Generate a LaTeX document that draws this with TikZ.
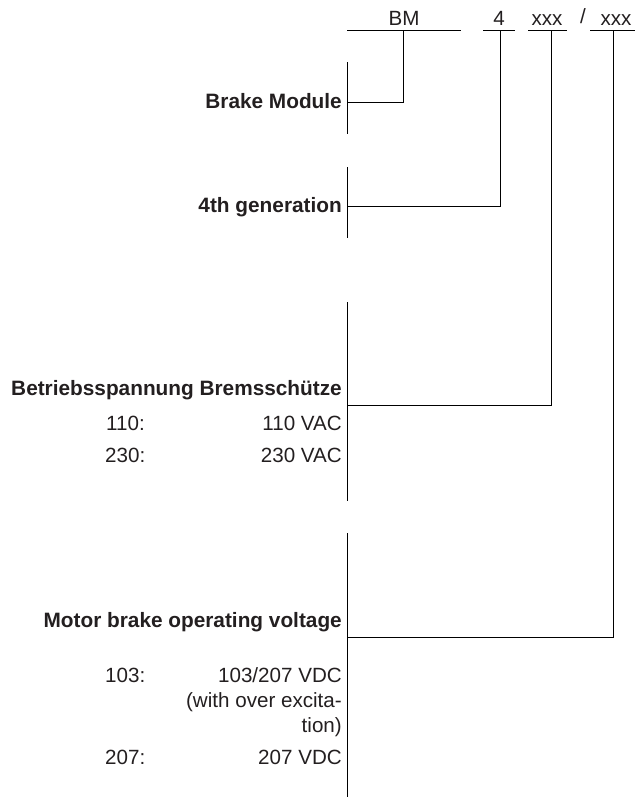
\documentclass[tikz,border=0pt]{standalone}
\usepackage{fontspec}
\setmainfont{Liberation Sans}
\usepackage{tikz}
\definecolor{txtgray}{RGB}{35,31,32}
\begin{document}
\begin{tikzpicture}[x=1pt,y=-1pt]
        \tikzstyle{every node}+=[inner sep=0pt, text=txtgray, font=\fontsize{20.6}{24}\selectfont]
        \tikzstyle{code}=[anchor=base]
        \tikzstyle{head}=[anchor=base east, font=\fontsize{20.8}{24}\selectfont\bfseries]
        \tikzstyle{val}=[anchor=base east]
        \tikzstyle{key}=[anchor=base west]
        \tikzstyle{wire}=[black, line width=1pt]
        \useasboundingbox (0,0) rectangle (642,798);
        % type code on top
        \draw [wire] (347,30) -- (461,30);
        \draw [wire] (483,30) -- (515,30);
        \draw [wire] (528,30) -- (567,30);
        \draw [wire] (590,30) -- (635,30);
        \node [code] (bm) at (404,25) {BM};
        \node [code] (gen) at (499,25) {4};
        \node [code] (vac) at (547,25) {xxx};
        \node [code] (slash) at (583,23) {/};
        \node [code] (vdc) at (616,25) {xxx};
        \coordinate (bmtop) at (403,30);
        \coordinate (gentop) at (500,30);
        \coordinate (vactop) at (551,30);
        \coordinate (vdctop) at (613,30);
        % separators on the left
        \draw [wire] (347,62) -- (347,134);
        \draw [wire] (347,167) -- (347,238);
        \draw [wire] (347,302) -- (347,501);
        \draw [wire] (347,533) -- (347,797);
        % field texts
        \node [head] (brake) at (342,108) {Brake Module};
        \node [head] (fourth) at (342,212) {4th generation};
        \node [head] (betr) at (342,395) {Betriebsspannung Bremsschütze};
        \node [key] (k110) at (106,430) {110:};
        \node [val] (v110) at (342,430) {110 VAC};
        \node [key] (k230) at (105,462) {230:};
        \node [val] (v230) at (342,462) {230 VAC};
        \node [head] (motor) at (342,627) {Motor brake operating voltage};
        \node [key] (k103) at (105,682) {103:};
        \node [val] (v103) at (342,682) {103/207 VDC};
        \node [val] (v103b) at (342,707) {(with over excita-};
        \node [val] (v103c) at (342,732) {tion)};
        \node [key] (k207) at (105,764) {207:};
        \node [val] (v207) at (342,764) {207 VDC};
        % brackets
        \coordinate (brakeend) at (347,102);
        \coordinate (fourthend) at (347,206);
        \coordinate (betrend) at (347,405);
        \coordinate (motorend) at (347,637);
        \draw [wire] (bmtop) |- (brakeend);
        \draw [wire] (gentop) |- (fourthend);
        \draw [wire] (vactop) |- (betrend);
        \draw [wire] (vdctop) |- (motorend);
        \end{tikzpicture}
\end{document}
